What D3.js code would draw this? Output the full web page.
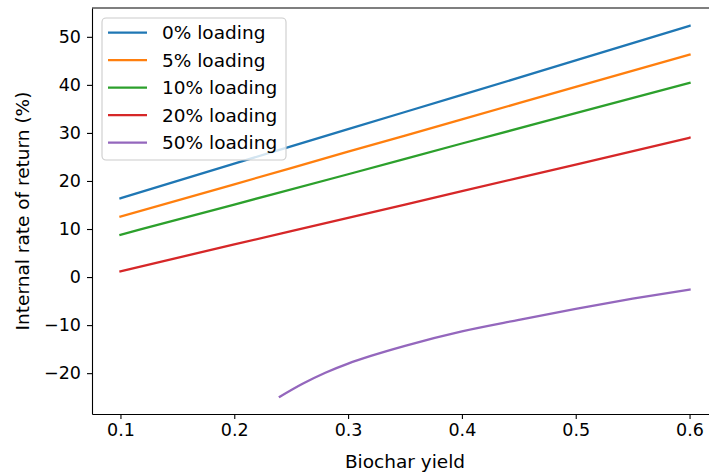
<!DOCTYPE html>
<html lang="en">
<head>
<meta charset="utf-8">
<title>IRR vs biochar yield</title>
<script src="https://d3js.org/d3.v7.min.js"></script>
<style>
  body { margin: 0; background: #fff; }
  text { font-family: "DejaVu Sans", sans-serif; fill: #000; }
</style>
</head>
<body>
<div id="chart"></div>
<script>
// values
var yields = [0.1, 0.2, 0.3, 0.4, 0.5, 0.6];
var irr0 = [16.4, 23.6, 30.8, 37.9, 45.1, 52.3];
var irr5 = [12.6, 19.3, 26.1, 32.8, 39.6, 46.3];
var irr10 = [8.8, 15.1, 21.4, 27.8, 34.1, 40.4];
var irr20 = [1.2, 6.8, 12.3, 17.9, 23.4, 29.0];
var yields50 = [0.24, 0.26, 0.28, 0.30, 0.32, 0.35, 0.40, 0.45, 0.50, 0.55, 0.60];
var irr50 = [-24.9, -22.2, -19.9, -18.0, -16.4, -14.3, -11.3, -8.9, -6.6, -4.5, -2.6];

var labels = ["0% loading", "5% loading", "10% loading", "20% loading", "50% loading"];
var colors = ["#1f77b4", "#ff7f0e", "#2ca02c", "#d62728", "#9467bd"];
var xTicks = [0.1, 0.2, 0.3, 0.4, 0.5, 0.6];
var yTicks = [-20, -10, 0, 10, 20, 30, 40, 50];

var series = [
  { x: yields, y: irr0 },
  { x: yields, y: irr5 },
  { x: yields, y: irr10 },
  { x: yields, y: irr20 },
  { x: yields50, y: irr50 }
];

var width = 709, height = 476;
var mLeft = 92, mTop = 8, mRight = 718, mBottom = 414;
var fontSize = "18.5px";
var tickFont = "17.5px";

var svg = d3.select("#chart").append("svg")
  .attr("width", width)
  .attr("height", height);

var x = d3.scaleLinear().domain([0.075, 0.625]).range([mLeft, mRight]);
var y = d3.scaleLinear().domain([-28.5, 56]).range([mBottom, mTop]);

// lines
var line = d3.line()
  .curve(d3.curveMonotoneX)
  .x(function(d) { return x(d[0]); })
  .y(function(d) { return y(d[1]); });

series.forEach(function(s, i) {
  svg.append("path")
    .datum(s.x.map(function(v, j) { return [v, s.y[j]]; }))
    .attr("fill", "none")
    .attr("stroke", colors[i])
    .attr("stroke-width", 2.3)
    .attr("stroke-linecap", "square")
    .attr("d", line);
});

// axes
var xAxis = svg.append("g")
  .attr("transform", "translate(0," + mBottom + ")")
  .call(d3.axisBottom(x).tickValues(xTicks).tickFormat(d3.format(".1f"))
    .tickSizeInner(5).tickSizeOuter(0).tickPadding(5));

var yAxis = svg.append("g")
  .attr("transform", "translate(" + mLeft + ",0)")
  .call(d3.axisLeft(y).tickValues(yTicks).tickFormat(d3.format("d"))
    .tickSizeInner(5).tickSizeOuter(0).tickPadding(6));

[xAxis, yAxis].forEach(function(a) {
  a.selectAll("text").style("font-size", tickFont).style("font-family", "DejaVu Sans");
  a.selectAll("line").attr("stroke", "#000").attr("stroke-width", 1.1);
  a.select(".domain").attr("stroke", "#000").attr("stroke-width", 1.1);
});

// top and right spines
svg.append("line").attr("x1", mLeft).attr("x2", mRight).attr("y1", mTop).attr("y2", mTop)
  .attr("stroke", "#000").attr("stroke-width", 1.1);
svg.append("line").attr("x1", mRight).attr("x2", mRight).attr("y1", mTop).attr("y2", mBottom)
  .attr("stroke", "#000").attr("stroke-width", 1.1);

// axis labels
svg.append("text")
  .attr("x", (mLeft + mRight) / 2)
  .attr("y", 468)
  .attr("text-anchor", "middle")
  .style("font-size", fontSize)
  .text("Biochar yield");

svg.append("text")
  .attr("transform", "translate(29," + ((mTop + mBottom) / 2) + ") rotate(-90)")
  .attr("text-anchor", "middle")
  .style("font-size", fontSize)
  .text("Internal rate of return (%)");

// legend
var legend = svg.append("g");
legend.append("rect")
  .attr("x", 102).attr("y", 18)
  .attr("width", 184).attr("height", 142)
  .attr("rx", 4)
  .attr("fill", "#fff").attr("fill-opacity", 0.8)
  .attr("stroke", "#ccc").attr("stroke-width", 1.1);

labels.forEach(function(l, i) {
  var ly = 32.7 + i * 27.5;
  legend.append("line")
    .attr("x1", 108).attr("x2", 147)
    .attr("y1", ly).attr("y2", ly)
    .attr("stroke", colors[i]).attr("stroke-width", 2.3);
  legend.append("text")
    .attr("x", 162).attr("y", ly)
    .attr("dy", "0.36em")
    .style("font-size", fontSize)
    .text(l);
});
</script>
</body>
</html>
